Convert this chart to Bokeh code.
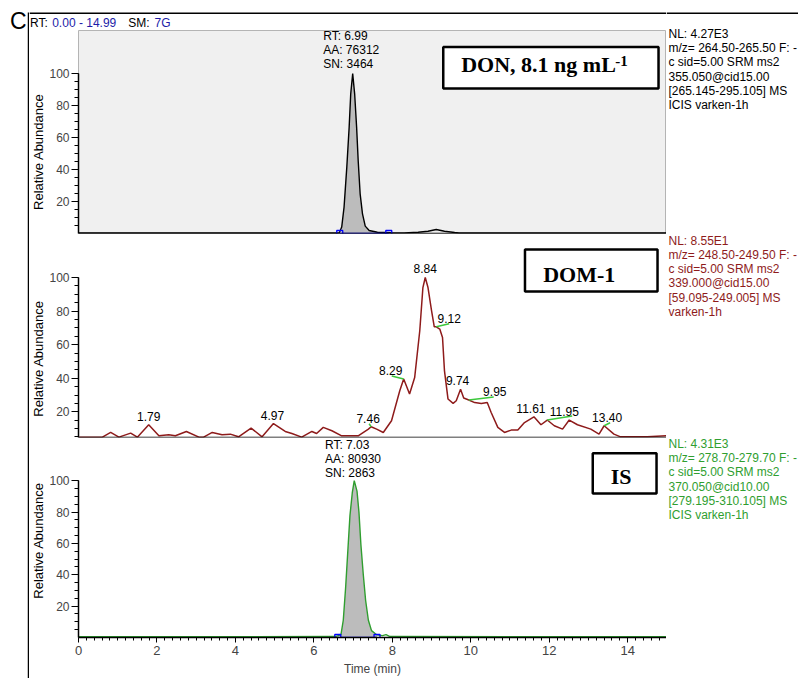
import math

from bokeh.plotting import figure
from bokeh.layouts import column, row
from bokeh.models import Range1d, FixedTicker, Span, Label, BoxAnnotation, ColumnDataSource
from bokeh.core.properties import value
from bokeh.embed import file_html
from bokeh.resources import INLINE

# ---------------- chromatogram data (time in min, relative abundance in %) ----------------
# DON transition
don_time = [0.00, 6.60, 6.65, 6.71, 6.77, 6.84, 6.90, 6.94, 6.99, 7.04, 7.09, 7.13,
            7.18, 7.24, 7.31, 7.41, 7.62, 7.96, 8.30, 8.66, 8.91, 9.12, 9.33, 9.59,
            9.70, 14.99]
don_abund = [0.3, 0.3, 0.5, 4.0, 16.5, 41.5, 66.5, 87.3, 100.0, 87.3, 66.5, 45.6,
             24.8, 12.3, 4.6, 1.9, 0.8, 0.5, 0.4, 0.8, 1.4, 2.5, 1.4, 0.6,
             0.3, 0.3]
don_peak_bounds = [6.66, 7.91]
don_peak_rt = 6.99
don_peak_info = ["RT: 6.99", "AA: 76312", "SN: 3464"]
don_scan_info = ["NL: 4.27E3", "m/z= 264.50-265.50 F: -", "c sid=5.00  SRM ms2",
                 "355.050@cid15.00", "[265.145-295.105]  MS", "ICIS varken-1h"]

# DOM-1 transition
dom_time = [0.02, 0.61, 0.82, 1.03, 1.33, 1.50, 1.79, 2.05, 2.30, 2.47, 2.75, 3.07,
            3.19, 3.41, 3.66, 3.87, 4.08, 4.40, 4.68, 4.97, 5.27, 5.44, 5.69, 5.95,
            6.07, 6.24, 6.46, 6.71, 7.13, 7.39, 7.46, 7.60, 7.77, 7.98, 8.19, 8.29,
            8.44, 8.57, 8.70, 8.78, 8.84, 8.91, 9.00, 9.07, 9.12, 9.21, 9.28, 9.33,
            9.42, 9.55, 9.63, 9.74, 9.82, 9.95, 10.10, 10.27, 10.42, 10.52, 10.69,
            10.86, 11.03, 11.20, 11.37, 11.61, 11.79, 11.95, 12.13, 12.34, 12.51,
            12.72, 13.06, 13.27, 13.40, 13.65, 13.82, 14.50, 14.99]
dom_abund = [4.9, 4.9, 7.7, 4.9, 7.3, 4.9, 12.3, 5.7, 6.3, 5.7, 8.3, 4.9,
             4.9, 7.7, 6.3, 6.7, 5.1, 10.3, 5.1, 13.0, 8.3, 7.1, 4.9, 8.3,
             7.1, 10.7, 8.7, 5.7, 5.7, 9.7, 11.1, 9.7, 7.7, 14.7, 32.5, 39.5,
             30.6, 40.4, 68.3, 94.0, 100.0, 94.0, 80.2, 70.6, 70.6, 69.3, 64.3, 44.4,
             27.6, 25.0, 26.6, 33.5, 28.2, 27.0, 25.5, 25.0, 25.5, 19.6, 10.7,
             7.7, 9.1, 9.1, 13.6, 17.0, 12.3, 15.1, 11.7, 9.7, 15.1,
             12.3, 9.7, 6.7, 11.7, 6.7, 5.1, 5.1, 5.7]
dom_peak_rt = [1.79, 4.97, 7.46, 8.29, 8.84, 9.12, 9.74, 9.95, 11.61, 11.95, 13.40]
dom_scan_info = ["NL: 8.55E1", "m/z= 248.50-249.50 F: -", "c sid=5.00  SRM ms2",
                 "339.000@cid15.00", "[59.095-249.005]  MS", "varken-1h"]

# internal standard transition
is_time = [0.00, 6.54, 6.69, 6.75, 6.81, 6.86, 6.92, 6.98, 7.03, 7.10, 7.15, 7.20,
           7.26, 7.32, 7.39, 7.47, 7.60, 7.75, 7.84, 7.94, 14.99]
is_abund = [0.5, 0.6, 1.7, 11.0, 31.9, 52.7, 77.7, 92.3, 100.0, 93.3, 79.8, 59.0,
            40.2, 23.6, 11.0, 4.4, 1.7, 1.2, 1.8, 0.6, 0.5]
is_peak_bounds = [6.61, 7.61]
is_peak_rt = 7.03
is_peak_info = ["RT: 7.03", "AA: 80930", "SN: 2863"]
is_scan_info = ["NL: 4.31E3", "m/z= 278.70-279.70 F: -", "c sid=5.00  SRM ms2",
                "370.050@cid10.00", "[279.195-310.105]  MS", "ICIS varken-1h"]

x_ticks = [0, 2, 4, 6, 8, 10, 12, 14]
y_ticks = [20, 40, 60, 80, 100]
rt_window = "0.00 - 14.99"
smoothing = "7G"

# ---------------- page geometry (pixels) and styles ----------------
PAGE_W, PAGE_H = 798, 678
RULE_X, RULE_Y = 28, 12.7      # rules of the enclosing box
LEFT_W = 29                    # column with the panel letter and the left rule
TITLE_W = 17                   # strip carrying each rotated y-axis title
YTITLE_X = 38
FRAME_L, FRAME_R = 76, 666     # plotting frame
INFO_W = PAGE_W - FRAME_R
PLOT_W = FRAME_R - LEFT_W - TITLE_W
MID_W = FRAME_R - LEFT_W
T_START, T_END = 0.0, 14.99
PPM = (FRAME_R - FRAME_L) / (T_END - T_START)
HEADER_H = 30
FONT = "Liberation Sans"
SERIF = "Liberation Serif"
DARK_RED = "#8e1b1b"
GREEN = "#2f9e2f"
LEADER = "#3cc83c"
BLUE = "#1c1ca8"
PEAK_FILL = "#bcbcbc"
LINE_STEP = 14.3

# label offsets (px) for the DOM-1 peak labels, and leader end points (px)
dom_label_dx = [0, -1, -3, -13, 0, 13, -3, 26, -3, 17, 3]
dom_leaders = {7.46: (-2, 3), 8.29: (-12, 3), 9.12: (13, 3), 9.95: (25, 3),
               11.95: (25, 4), 13.40: (6, 3)}


def pixel_fig(width, height):
    """A figure whose frame fills the canvas, with pixel coordinates (y down)."""
    p = figure(width=width, height=height, title=None,
               x_range=Range1d(0, width), y_range=Range1d(height, 0),
               output_backend="svg", toolbar_location=None,
               x_axis_location=None, y_axis_location=None,
               min_border=0, min_border_left=0, min_border_right=0,
               min_border_top=0, min_border_bottom=0,
               background_fill_color="white", border_fill_color="white")
    p.grid.visible = False
    p.outline_line_color = None
    return p


def px_text(p, xs, ys, texts, color="black", size="12px", align="left", angle=0.0):
    p.text(x=xs, y=ys, text=texts, text_font=value(FONT), text_font_size=size,
           text_color=color, text_align=align, text_baseline="middle", angle=angle)


def make_panel(page_top, height, top, bottom, y0, ppu, bg, show_x):
    frame_bottom = page_top + height - bottom
    y1 = y0 + (height - top - bottom) / ppu
    p = figure(width=PLOT_W, height=height, title=None,
               x_range=Range1d(T_START, T_END), y_range=Range1d(y0, y1),
               output_backend="svg", toolbar_location=None,
               x_axis_location="below" if show_x else None,
               min_border_left=FRAME_L - LEFT_W - TITLE_W, min_border_right=0,
               min_border_top=top, min_border_bottom=bottom,
               background_fill_color=bg, border_fill_color="white")
    p.grid.visible = False
    p.outline_line_color = None

    def xd(px):
        return T_START + (px - FRAME_L) / PPM

    def yd(py):
        return y0 + (frame_bottom - py) / ppu

    ax = p.yaxis[0]
    ax.ticker = FixedTicker(ticks=y_ticks, minor_ticks=list(range(5, 101, 5)))
    ax.bounds = (y0, 100)
    ax.major_label_text_font = FONT
    ax.major_label_text_font_size = "12px"
    ax.major_label_standoff = 2
    ax.major_tick_out = 7
    ax.major_tick_in = 0
    ax.minor_tick_out = 4
    ax.minor_tick_in = 0
    ax.axis_line_width = 1.5
    ax.major_tick_line_width = 1.2
    ax.axis_line_color = "black"

    # rotated y-axis title, centred on the 0-100 span of the axis
    strip = pixel_fig(TITLE_W, height)
    title_y = frame_bottom - (100 - y0) * ppu / 2 - page_top
    px_text(strip, [YTITLE_X - LEFT_W], [title_y], ["Relative Abundance"], size="13px",
            align="center", angle=math.pi / 2)
    return p, xd, yd, strip


def add_label(p, x, y, text, size="12px", color="black", font=FONT, style="normal"):
    p.add_layout(Label(x=x, y=y, text=text, text_font=font, text_font_size=size,
                       text_color=color, text_font_style=style,
                       text_align="left", text_baseline="middle"))


def add_box(p, left, right, top, bottom):
    p.add_layout(BoxAnnotation(left=left, right=right, top=top, bottom=bottom,
                               fill_color="white", fill_alpha=1, line_color="black",
                               line_alpha=1, line_width=2.5))


def add_peak_area(p, t, a, bounds, line_color):
    inside = [i for i, v in enumerate(t) if bounds[0] <= v <= bounds[1]]
    src = ColumnDataSource(dict(t=[t[i] for i in inside], a=[a[i] for i in inside]))
    p.varea(x="t", y1=0, y2="a", source=src, fill_color=PEAK_FILL)
    p.line(t, a, line_color=line_color, line_width=1.4)
    p.line(bounds, [0, 0], line_color="blue", line_width=1.5)
    p.scatter(bounds, [0, 0], marker="square", size=6, fill_color=None,
              line_color="blue", line_width=1.3)


def add_peak_info(p, rt, info, dx, dys):
    p.text(x=[rt] * len(info), y=[100] * len(info), text=info,
           x_offset=dx, y_offset=dys,
           text_font=value(FONT), text_font_size="12px", text_color="black",
           text_align="left", text_baseline="middle")


# ---------------- left column: panel letter and left rule ----------------
left = pixel_fig(LEFT_W, PAGE_H)
left.line([RULE_X, RULE_X, LEFT_W], [PAGE_H, RULE_Y, RULE_Y], line_color="black",
          line_width=1.5, line_join="miter")
px_text(left, [9.5], [20.5], ["C"], size="23px")

# ---------------- header: run range and smoothing ----------------
header = pixel_fig(MID_W, HEADER_H)
header.line([0, MID_W], [RULE_Y, RULE_Y], line_color="black", line_width=1.5)
px_text(header, [29.5 - LEFT_W, 127.7 - LEFT_W], [22.3, 22.3], ["RT:", "SM:"])
px_text(header, [51.7 - LEFT_W, 154 - LEFT_W], [22.3, 22.3], [rt_window, smoothing],
        color=BLUE)

# ---------------- right column: scan filter / acquisition info ----------------
info = pixel_fig(INFO_W, PAGE_H)
info.line([0, INFO_W], [RULE_Y, RULE_Y], line_color="black", line_width=1.5)
for lines, first_center, color in [(don_scan_info, 33.3, "black"),
                                   (dom_scan_info, 240.0, DARK_RED),
                                   (is_scan_info, 443.3, GREEN)]:
    px_text(info, [668 - FRAME_R] * len(lines),
            [first_center + LINE_STEP * i for i in range(len(lines))], lines, color=color)

# ---------------- top panel: DON ----------------
p1, xd1, yd1, t1 = make_panel(30, 206, 0, 3, 0.0, 1.6, "#f0f0f0", False)
p1.outline_line_color = "#b4b4b4"
p1.outline_line_width = 1
add_peak_area(p1, don_time, don_abund, don_peak_bounds, "black")
p1.add_layout(Span(location=0, dimension="width", line_color="black", line_width=1.5))
add_peak_info(p1, don_peak_rt, don_peak_info, -29.5, [-38, -23.5, -9.5])
add_box(p1, xd1(442), xd1(658), yd1(46.5), yd1(88))
add_label(p1, xd1(460), yd1(64.2), "DON, 8.1 ng mL", size="22px", font=SERIF, style="bold")
add_label(p1, xd1(614.5), yd1(60), "-1", size="15px", font=SERIF, style="bold")

# ---------------- middle panel: DOM-1 ----------------
PPU2 = 1.679
p2, xd2, yd2, t2 = make_panel(236, 202, 4, 1, 4.7, PPU2, "white", False)
p2.line(dom_time, dom_abund, line_color=DARK_RED, line_width=1.5)
p2.add_layout(Span(location=4.7, dimension="width", line_color="black", line_width=1.5))

dom_apex = [dom_abund[dom_time.index(rt)] for rt in dom_peak_rt]
lead_rt = [rt for rt in dom_peak_rt if rt in dom_leaders]
lead_y0 = [dom_apex[dom_peak_rt.index(rt)] for rt in lead_rt]
p2.segment(x0=lead_rt, y0=lead_y0,
           x1=[rt + dom_leaders[rt][0] / PPM for rt in lead_rt],
           y1=[y + dom_leaders[rt][1] / PPU2 for rt, y in zip(lead_rt, lead_y0)],
           line_color=LEADER, line_width=1.5)
p2.text(x=dom_peak_rt, y=dom_apex, text=[f"{rt:.2f}" for rt in dom_peak_rt],
        x_offset=dom_label_dx, y_offset=-8.5,
        text_font=value(FONT), text_font_size="12px", text_color="black",
        text_align="center", text_baseline="middle")
add_box(p2, xd2(524), xd2(657), yd2(249), yd2(291))
add_label(p2, xd2(542.3), yd2(274), "DOM-1", size="22px", font=SERIF, style="bold")

# ---------------- bottom panel: internal standard ----------------
p3, xd3, yd3, t3 = make_panel(438, 240, 0, 37, 0.0, 1.6, "white", True)
add_peak_area(p3, is_time, is_abund, is_peak_bounds, GREEN)
add_peak_info(p3, is_peak_rt, is_peak_info, -29.3, [-36, -22, -8])
add_box(p3, xd3(592), xd3(656), yd3(453), yd3(494))
add_label(p3, xd3(610), yd3(476.7), "IS", size="22px", font=SERIF, style="bold")

xa = p3.xaxis[0]
xa.ticker = FixedTicker(ticks=x_ticks, minor_ticks=[round(0.2 * i, 1) for i in range(75)])
xa.axis_label = "Time (min)"
xa.axis_label_text_font = FONT
xa.axis_label_text_font_size = "12px"
xa.axis_label_text_font_style = "normal"
xa.axis_label_standoff = 4
xa.major_label_text_font = FONT
xa.major_label_text_font_size = "13px"
xa.major_label_standoff = 3
xa.major_tick_out = 5
xa.major_tick_in = 0
xa.minor_tick_out = 3
xa.minor_tick_in = 0
xa.axis_line_width = 1.5
xa.axis_line_color = "black"

middle = column(header, row(t1, p1), row(t2, p2), row(t3, p3))
layout = row(left, middle, info)
open("out.html", "w").write(file_html(layout, INLINE))
